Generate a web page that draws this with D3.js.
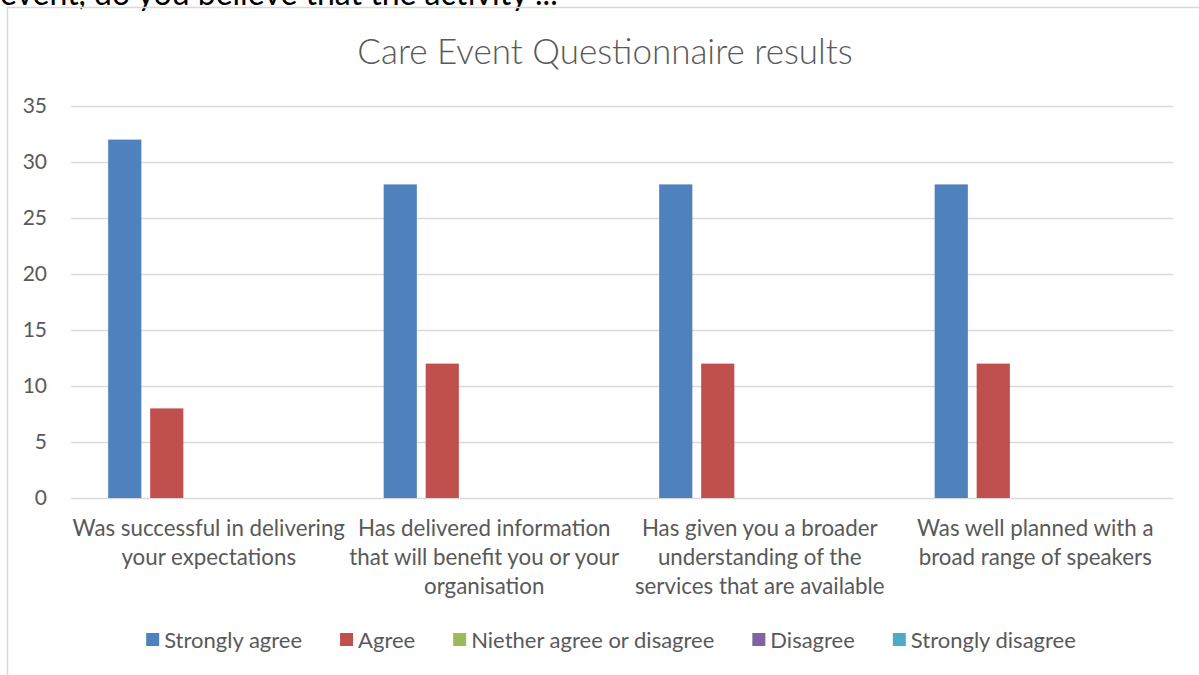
<!DOCTYPE html>
<html>
<head>
<meta charset="utf-8">
<script src="https://cdn.jsdelivr.net/npm/d3@7"></script>
<style>
  body { margin: 0; background: #fff; }
  svg { display: block; font-family: Lato, "Open Sans", sans-serif; }
</style>
</head>
<body>
<div id="chart"></div>
<script>
// données
const categories = [
  ["Was successful in delivering", "your expectations"],
  ["Has delivered information", "that will benefit you or your", "organisation"],
  ["Has given you a broader", "understanding of the", "services that are available"],
  ["Was well planned with a", "broad range of speakers"]
];
const seriesNames = ["Strongly agree", "Agree", "Niether agree or disagree", "Disagree", "Strongly disagree"];
const stronglyAgree = [32, 28, 28, 28];
const agree = [8, 12, 12, 12];
const neither = [0, 0, 0, 0];
const disagree = [0, 0, 0, 0];
const stronglyDisagree = [0, 0, 0, 0];
const yTicks = [0, 5, 10, 15, 20, 25, 30, 35];
const colors = ["#4f81bd", "#c0504d", "#9bbb59", "#8064a2", "#4bacc6"];

const allSeries = [stronglyAgree, agree, neither, disagree, stronglyDisagree];

const W = 1199, H = 675;
const plot = { left: 71, right: 1173, top: 106, bottom: 498 };

const svg = d3.select("#chart").append("svg")
  .attr("width", W)
  .attr("height", H);

// texte coupé en haut de la page
svg.append("text")
  .attr("x", 0)
  .attr("y", 5)
  .style("font-size", "32px")
  .style("fill", "#000")
  .text("event, do you believe that the activity ...");

// cadre du graphique
svg.append("rect")
  .attr("x", 7.5)
  .attr("y", 7.5)
  .attr("width", 1250)
  .attr("height", 700)
  .attr("fill", "none")
  .attr("stroke", "#d9d9d9")
  .attr("stroke-width", 1.5);

// titre
svg.append("text")
  .attr("x", 605)
  .attr("y", 64)
  .attr("text-anchor", "middle")
  .style("font-size", "35px")
  .style("font-weight", 300)
  .style("fill", "#595959")
  .text("Care Event Questionnaire results");

// échelles
const x0 = d3.scaleBand()
  .domain(d3.range(categories.length))
  .range([plot.left, plot.right]);

const x1 = d3.scaleBand()
  .domain(d3.range(seriesNames.length))
  .range([0, x0.bandwidth()])
  .paddingInner(0.21)
  .paddingOuter(0.885);

const y = d3.scaleLinear()
  .domain([0, 35])
  .range([plot.bottom, plot.top]);

// grille
svg.append("g")
  .selectAll("line")
  .data(yTicks)
  .enter()
  .append("line")
  .attr("x1", plot.left)
  .attr("x2", plot.right)
  .attr("y1", d => Math.round(y(d)) + 0.5)
  .attr("y2", d => Math.round(y(d)) + 0.5)
  .attr("stroke", "#d9d9d9")
  .attr("stroke-width", 1.5);

// axe Y
const yAxis = d3.axisLeft(y).tickValues(yTicks).tickSize(0).tickPadding(0);
const gy = svg.append("g")
  .attr("transform", `translate(47,0)`)
  .call(yAxis);
gy.select(".domain").remove();
gy.selectAll("text")
  .style("font-size", "21px")
  .style("fill", "#595959")
  .style("font-family", "Lato, sans-serif");

// barres
const groups = svg.append("g")
  .selectAll("g")
  .data(categories.map((c, i) => i))
  .enter()
  .append("g")
  .attr("transform", i => `translate(${x0(i)},0)`);

groups.selectAll("rect")
  .data(i => allSeries.map((s, k) => ({ k: k, v: s[i] })))
  .enter()
  .append("rect")
  .attr("x", d => x1(d.k))
  .attr("y", d => y(d.v))
  .attr("width", x1.bandwidth())
  .attr("height", d => y(0) - y(d.v))
  .attr("fill", d => colors[d.k]);

// étiquettes des catégories
const labels = svg.append("g")
  .selectAll("text")
  .data(categories)
  .enter()
  .append("text")
  .attr("x", (d, i) => x0(i) + x0.bandwidth() / 2)
  .attr("y", 536)
  .attr("text-anchor", "middle")
  .style("font-size", "22.3px")
  .style("fill", "#595959");

labels.selectAll("tspan")
  .data(d => d)
  .enter()
  .append("tspan")
  .attr("x", function () { return this.parentNode.getAttribute("x"); })
  .attr("dy", (d, i) => i === 0 ? 0 : 29)
  .text(d => d);

// légende
const legend = svg.append("g");
const items = legend.selectAll("g")
  .data(seriesNames)
  .enter()
  .append("g");

items.append("rect")
  .attr("width", 13)
  .attr("height", 13)
  .attr("y", -7)
  .attr("fill", (d, i) => colors[i]);

items.append("text")
  .attr("x", 18)
  .attr("dy", "0.35em")
  .style("font-size", "22px")
  .style("fill", "#595959")
  .text(d => d);

let pos = 0;
items.each(function () {
  d3.select(this).attr("transform", `translate(${pos},0)`);
  const w = 18 + d3.select(this).select("text").node().getComputedTextLength();
  pos += w + 38;
});
const total = pos - 38;
legend.attr("transform", `translate(${611 - total / 2},640)`);
</script>
</body>
</html>
